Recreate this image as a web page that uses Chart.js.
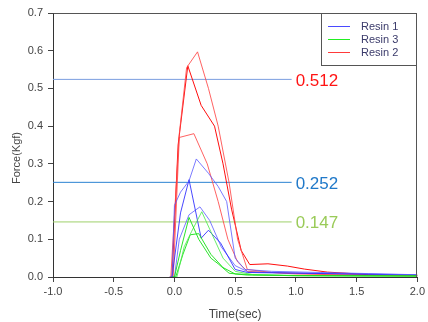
<!DOCTYPE html>
<html>
<head>
<meta charset="utf-8">
<script src="https://cdn.jsdelivr.net/npm/chart.js@4/dist/chart.umd.min.js"></script>
<style>
html,body{margin:0;padding:0;background:#fff;}
#wrap{position:relative;width:428px;height:322px;}
</style>
</head>
<body>
<div id="wrap"><canvas id="c" width="428" height="322"></canvas></div>
<script>
// ---- Data (time in sec, force in Kgf) ----
// Resin 1 (blue) traces
const r1a_t = [-0.04, -0.02, 0.0, 0.05, 0.12, 0.18, 0.28, 0.36, 0.43, 0.5, 0.58, 0.8, 1.2, 1.6, 2.0];
const r1a_f = [0, 0, 0.19, 0.225, 0.255, 0.313, 0.275, 0.24, 0.2, 0.05, 0.02, 0.015, 0.012, 0.009, 0.006];
const r1b_t = [-0.03, -0.02, 0.05, 0.12, 0.22, 0.28, 0.38, 0.5, 0.6, 1.0, 1.5, 2.0];
const r1b_f = [0, 0, 0.17, 0.258, 0.103, 0.124, 0.09, 0.02, 0.012, 0.01, 0.008, 0.005];
const r1c_t = [-0.02, 0.0, 0.04, 0.12, 0.21, 0.29, 0.385, 0.5, 0.61, 1.0, 1.5, 2.0];
const r1c_f = [0, 0, 0.1, 0.165, 0.186, 0.15, 0.08, 0.03, 0.013, 0.011, 0.008, 0.006];
// Resin 3 (green) traces
const r3a_t = [-0.02, 0.0, 0.05, 0.12, 0.2, 0.3, 0.36, 0.45, 0.6, 1.0, 2.0];
const r3a_f = [0, 0, 0.07, 0.158, 0.1, 0.05, 0.035, 0.01, 0.005, 0.004, 0.003];
const r3b_t = [0.0, 0.02, 0.08, 0.14, 0.225, 0.3, 0.4, 0.5, 0.65, 1.0, 2.0];
const r3b_f = [0, 0, 0.08, 0.12, 0.173, 0.12, 0.05, 0.015, 0.006, 0.004, 0.002];
const r3c_t = [-0.01, 0.01, 0.07, 0.13, 0.2, 0.3, 0.4, 0.5, 1.0, 2.0];
const r3c_f = [0, 0, 0.06, 0.112, 0.115, 0.06, 0.025, 0.008, 0.003, 0.002];
// Resin 2 (red) traces
const r2a_t = [-0.04, -0.03, 0.04, 0.1, 0.19, 0.28, 0.36, 0.45, 0.52, 0.6, 0.8, 1.0, 1.5, 2.0];
const r2a_f = [0, 0, 0.38, 0.555, 0.597, 0.5, 0.4, 0.25, 0.1, 0.02, 0.012, 0.008, 0.005, 0.003];
const r2b_t = [-0.03, -0.02, 0.03, 0.11, 0.22, 0.33, 0.4, 0.47, 0.55, 0.62, 0.77, 0.93, 1.07, 1.26, 1.42, 1.6, 2.0];
const r2b_f = [0, 0, 0.35, 0.56, 0.455, 0.4, 0.3, 0.18, 0.07, 0.033, 0.035, 0.029, 0.021, 0.013, 0.01, 0.006, 0.004];
const r2c_t = [-0.02, -0.01, 0.04, 0.16, 0.27, 0.36, 0.44, 0.52, 0.6, 0.8, 1.2, 1.6, 2.0];
const r2c_f = [0, 0, 0.37, 0.38, 0.3, 0.2, 0.1, 0.04, 0.015, 0.012, 0.008, 0.006, 0.004];

// Reference levels (line level, label text)
const refLevels = [0.524, 0.251, 0.146];
const refLabels = ['0.512', '0.252', '0.147'];
const refStartEnd = [-1.0, 0.965];

const legendNames = ['Resin 1', 'Resin 3', 'Resin 2'];
const xTicks = [-1.0, -0.5, 0.0, 0.5, 1.0, 1.5, 2.0];

// ---- styles ----
const BLUE = 'rgba(40,40,255,0.85)', BLUE_L = 'rgba(90,90,255,0.8)';
const GREEN = 'rgba(20,225,20,0.9)', GREEN_L = 'rgba(80,235,80,0.85)';
const RED = 'rgba(255,0,0,0.95)', RED_L = 'rgba(255,70,70,0.85)';
const refLineColors = ['#7a9ee0', '#2b82d2', '#9fd06a'];
const refTextColors = ['#ff1414', '#2079c9', '#9acb58'];
const legendColors = ['#4a4aff', '#22ee22', '#ff3a3a'];

function pts(t, f){ return t.map((v,i)=>({x:v, y:f[i]})); }
function ds(t, f, color){ return {data: pts(t,f), borderColor: color, borderWidth: 1, pointRadius: 0, fill: false, tension: 0}; }

const datasets = [
  ds(r3a_t, r3a_f, GREEN), ds(r3b_t, r3b_f, GREEN_L), ds(r3c_t, r3c_f, GREEN),
  ds(r1a_t, r1a_f, BLUE_L), ds(r1b_t, r1b_f, BLUE), ds(r1c_t, r1c_f, BLUE_L),
  ds(r2a_t, r2a_f, RED_L), ds(r2b_t, r2b_f, RED), ds(r2c_t, r2c_f, RED_L),
];
refLevels.forEach((lv, i) => {
  datasets.push({data: refStartEnd.map(x=>({x:x, y:lv})), borderColor: refLineColors[i], borderWidth: 1, pointRadius: 0, fill: false});
});

const FONT = '"Liberation Sans", Arial, sans-serif';

const decor = {
  id: 'decor',
  afterDraw(chart){
    const ctx = chart.ctx, a = chart.chartArea;
    const xs = chart.scales.x, ys = chart.scales.y;
    ctx.save();
    // frame top and right
    ctx.strokeStyle = '#555';
    ctx.lineWidth = 1;
    ctx.beginPath();
    ctx.moveTo(Math.round(a.left)+0.5, Math.round(a.top)+0.5);
    ctx.lineTo(Math.round(a.right)-0.5, Math.round(a.top)+0.5);
    ctx.lineTo(Math.round(a.right)-0.5, Math.round(a.bottom));
    ctx.stroke();
    // y axis title
    ctx.save();
    ctx.translate(17, 158);
    ctx.rotate(-Math.PI/2);
    ctx.font = '11px ' + FONT;
    ctx.fillStyle = '#444';
    ctx.textAlign = 'center';
    ctx.textBaseline = 'middle';
    ctx.fillText('Force(Kgf)', 0, 0);
    ctx.restore();
    // reference labels
    ctx.font = '17px ' + FONT;
    ctx.textBaseline = 'middle';
    ctx.textAlign = 'left';
    refLevels.forEach((lv,i)=>{
      ctx.fillStyle = refTextColors[i];
      ctx.fillText(refLabels[i], xs.getPixelForValue(refStartEnd[1]) + 4, ys.getPixelForValue(lv) + 1.5);
    });
    // legend box
    const bx = 321, by = Math.round(a.top), bw = Math.round(a.right) - 321, bh = 52;
    ctx.fillStyle = '#fff';
    ctx.fillRect(bx, by, bw, bh);
    ctx.strokeStyle = '#555';
    ctx.strokeRect(bx+0.5, by+0.5, bw-1, bh);
    ctx.font = '11px ' + FONT;
    legendNames.forEach((n,i)=>{
      const yy = by + 13 + i*13;
      ctx.strokeStyle = legendColors[i];
      ctx.beginPath();
      ctx.moveTo(328, Math.round(yy)+0.5);
      ctx.lineTo(350, Math.round(yy)+0.5);
      ctx.stroke();
      ctx.fillStyle = '#3a3a6a';
      ctx.fillText(n, 361, yy + 1);
    });
    ctx.restore();
  }
};

new Chart(document.getElementById('c'), {
  type: 'line',
  data: { datasets },
  options: {
    responsive: false,
    animation: false,
    events: [],
    layout: { padding: { top: 13, right: 7, left: 0, bottom: 0 } },
    plugins: { legend: { display: false }, tooltip: { enabled: false } },
    scales: {
      x: {
        type: 'linear', min: -1, max: 2,
        afterBuildTicks: (s) => { s.ticks = xTicks.map(v=>({value:v})); },
        afterFit: (s) => { s.height = 45; },
        grid: { drawOnChartArea: false, drawTicks: true, tickLength: 5, color: '#444' },
        border: { display: true, color: '#333' },
        ticks: { color: '#444', font: { family: FONT, size: 11 }, padding: 3, maxRotation: 0, callback: v => Number(v).toFixed(1) },
        title: { display: true, text: 'Time(sec)', color: '#444', font: { family: FONT, size: 12 }, padding: { top: 4, bottom: 0 } }
      },
      y: {
        type: 'linear', min: 0, max: 0.7,
        ticks: { stepSize: 0.1, color: '#444', font: { family: FONT, size: 11 }, padding: 5, callback: v => Number(v).toFixed(1) },
        afterFit: (s) => { s.width = 53; },
        grid: { drawOnChartArea: false, drawTicks: true, tickLength: 5, color: '#444' },
        border: { display: true, color: '#333' },
        title: { display: false }
      }
    }
  },
  plugins: [decor]
});
</script>
</body>
</html>
